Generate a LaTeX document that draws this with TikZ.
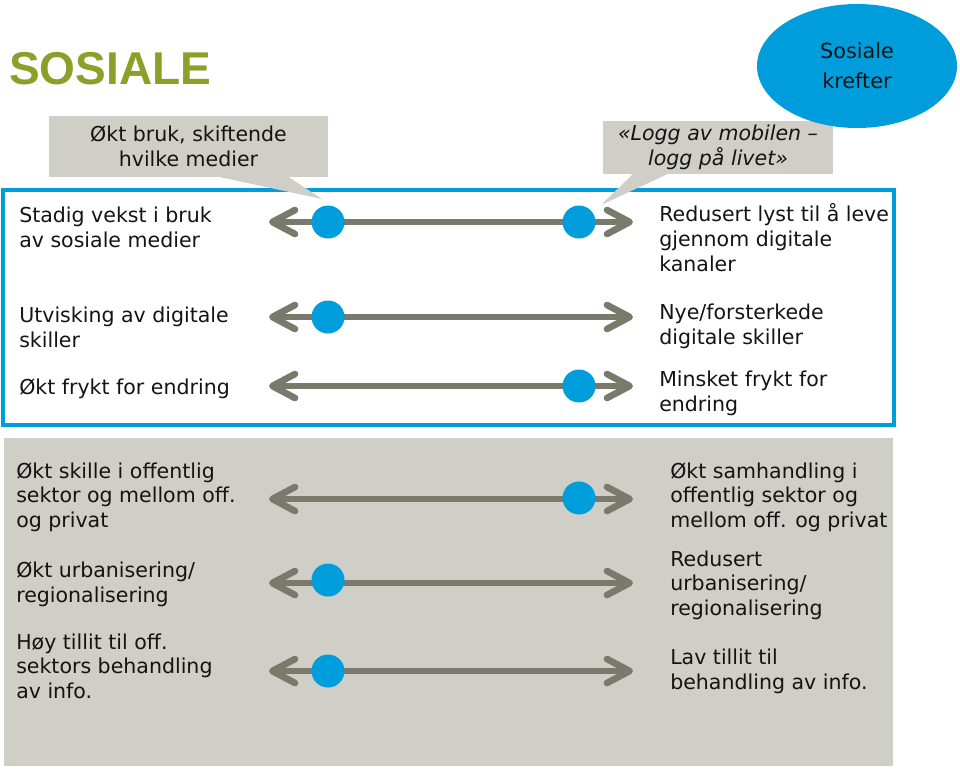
\documentclass[tikz,border=0pt]{standalone}
\usepackage{fontspec}
\setmainfont{DejaVu Sans}
\newfontfamily\titlefont{Liberation Sans}
\usetikzlibrary{shapes.geometric,arrows.meta}
\definecolor{cblue}{RGB}{0,157,221}
\definecolor{cgrey}{RGB}{207,206,199}
\definecolor{carrow}{RGB}{122,122,108}
\definecolor{cgreen}{RGB}{138,160,40}
\definecolor{ctext}{RGB}{20,20,20}
\tikzset{
  txt/.style={anchor=base west, align=left, inner sep=0pt, text=ctext,
    font=\fontsize{15.4}{18.75}\selectfont},
  txtb/.style={txt, font=\fontsize{15.4}{18.2}\selectfont},
  calloutbox/.style={fill=cgrey, inner sep=0pt, align=center, text=ctext,
    font=\fontsize{15.4}{18.75}\selectfont},
  barb/.tip={Straight Barb[length=17pt,width=18pt,round,line width=5pt]},
  conn/.style={draw=carrow, line width=3.9pt, barb-barb},
  dot/.style={circle, fill=cblue, minimum size=24.75pt, inner sep=0pt},
}
\begin{document}
\begin{tikzpicture}[x=0.75pt,y=-0.75pt]
\path[use as bounding box] (0,0) rectangle (960,769);
% panels
\fill[cgrey] (4,438) rectangle (893,766);
\draw[cblue, line width=3pt] (3,190) rectangle (894,425);
% title
\node[anchor=base west, inner sep=0pt, text=cgreen, font=\titlefont\bfseries\fontsize{34.5}{40}\selectfont] (title) at (9,84) {SOSIALE};
% callouts
\node[calloutbox, minimum width=209.25pt, minimum height=45.75pt] (c1) at (188.5,146.5) {Økt bruk, skiftende\\hvilke medier};
\coordinate (p1a) at (215,176);
\coordinate (p1b) at (287,176);
\coordinate (p1t) at (322,199);
\fill[cgrey] (p1a) -- (p1t) -- (p1b) -- cycle;
\node[calloutbox, minimum width=172.5pt, minimum height=39.75pt, font=\fontsize{15.4}{18.75}\selectfont\itshape] (c2) at (718,147) {«Logg av mobilen –\\logg på livet»};
\coordinate (p2a) at (635,172);
\coordinate (p2b) at (672,172);
\coordinate (p2t) at (601,205);
\fill[cgrey] (p2a) -- (p2t) -- (p2b) -- cycle;
% ellipse
\node[ellipse, fill=cblue, minimum width=150pt, minimum height=93pt, inner sep=0pt, align=center, text=ctext, font=\fontsize{15.6}{22.5}\selectfont] (force) at (857,66) {Sosiale\\krefter};
% arrows
\foreach \i/\y in {1/222, 2/317, 3/386, 4/499, 5/583, 6/671} {
  \coordinate (l\i) at (269,\y);
  \coordinate (r\i) at (633,\y);
  \draw[conn] (l\i) -- (r\i);
}
% dots
\node[dot] (d1l) at (328,222) {};
\node[dot] (d1r) at (579,222) {};
\node[dot] (d2l) at (328,317) {};
\node[dot] (d3r) at (579,386) {};
\node[dot] (d4r) at (579,498) {};
\node[dot] (d5l) at (328,580) {};
\node[dot] (d6l) at (328,671) {};
% left texts (anchor = baseline of last line)
\node[txt] (t1l) at (19,247) {Stadig vekst i bruk\\av sosiale medier};
\node[txt] (t2l) at (19,347) {Utvisking av digitale\\skiller};
\node[txt] (t3l) at (19,394) {Økt frykt for endring};
\node[txtb] (t4l) at (16,527) {Økt skille i offentlig\\sektor og mellom off.\\og privat};
\node[txtb] (t5l) at (16,602) {Økt urbanisering/\\regionalisering};
\node[txtb] (t6l) at (16,698) {Høy tillit til off.\\sektors behandling\\av info.};
% right texts
\node[txt] (t1r) at (659,271) {Redusert lyst til å leve\\gjennom digitale\\kanaler};
\node[txt] (t2r) at (659,344) {Nye/forsterkede\\digitale skiller};
\node[txt] (t3r) at (659,411) {Minsket frykt for\\endring};
\node[txtb] (t4r) at (670,527) {Økt samhandling i\\offentlig sektor og\\mellom off. og privat};
\node[txtb] (t5r) at (670,615) {Redusert\\urbanisering/\\regionalisering};
\node[txtb] (t6r) at (670,689) {Lav tillit til\\behandling av info.};
\end{tikzpicture}
\end{document}
